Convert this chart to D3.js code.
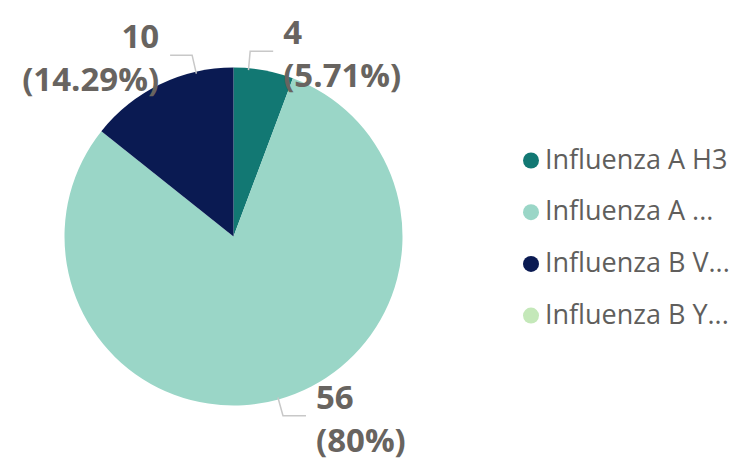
<!DOCTYPE html>
<html>
<head>
<meta charset="utf-8">
<script src="https://cdnjs.cloudflare.com/ajax/libs/d3/7.8.5/d3.min.js"></script>
<style>
  body { margin: 0; background: #fff; }
  svg { display: block; font-family: "Open Sans", "Segoe UI", sans-serif; }
</style>
</head>
<body>
<div id="chart"></div>
<script>
var categories = ['Influenza A H3', 'Influenza A ...', 'Influenza B V...', 'Influenza B Y...']
var values = [4, 56, 10, 0]
var colors = ['#127873', '#9ad6c7', '#0a1a52', '#c4e8b9']

var width = 741, height = 463
var cx = 233.5, cy = 236.5, radius = 169

var svg = d3.select('#chart').append('svg')
            .attr('width', width)
            .attr('height', height)

var total = d3.sum(values)
var pct = d3.format('.2~f')

var pie = d3.pie().sort(null).value(function (d) { return d })
var arcs = pie(values)

var arc = d3.arc().innerRadius(0).outerRadius(radius)

var g = svg.append('g').attr('transform', 'translate(' + cx + ',' + cy + ')')

g.selectAll('path.slice')
 .data(arcs)
 .enter().append('path')
 .attr('class', 'slice')
 .attr('d', arc)
 .attr('fill', function (d, i) { return colors[i] })

// data labels with leader lines
var labelled = arcs.filter(function (d) { return d.value > 0 })
var point = function (a, r) { return [r * Math.sin(a), -r * Math.cos(a)] }

labelled.forEach(function (d) {
  var mid = (d.startAngle + d.endAngle) / 2
  // labels near the top get pulled toward 12 o'clock, like the original
  var signed = mid > Math.PI ? mid - 2 * Math.PI : mid
  var a = Math.abs(signed) < Math.PI / 4 ? signed * 0.5 : mid
  var p0 = point(a, radius - 2)
  var p1 = point(a, radius + 17)
  var right = Math.sin(a) >= 0
  var p2 = [p1[0] + (right ? 23 : -22), p1[1]]
  g.append('polyline')
   .attr('points', [p0, p1, p2].map(function (p) { return p.join(',') }).join(' '))
   .attr('fill', 'none')
   .attr('stroke', '#c8c8c8')
   .attr('stroke-width', 1.5)

  var tx = p2[0] + (right ? 10 : -11)
  var t = g.append('text')
           .attr('x', tx)
           .attr('y', p2[1] - 7)
           .attr('text-anchor', right ? 'start' : 'end')
           .attr('fill', '#686460')
           .attr('font-size', 33)
           .attr('font-weight', 'bold')
  t.append('tspan').text(d.value)
  t.append('tspan')
   .attr('x', tx)
   .attr('dy', 43)
   .text('(' + pct(d.value / total * 100) + '%)')
})

// legend
var legend = svg.append('g')
var rows = legend.selectAll('g.item')
  .data(categories)
  .enter().append('g')
  .attr('class', 'item')
  .attr('transform', function (d, i) { return 'translate(531,' + (160.5 + i * 51.7) + ')' })

rows.append('circle')
    .attr('r', 8)
    .attr('fill', function (d, i) { return colors[i] })

rows.append('text')
    .attr('x', 14)
    .attr('dy', '0.3em')
    .attr('fill', '#605e5c')
    .attr('font-size', 27)
    .text(function (d) { return d })
</script>
</body>
</html>
